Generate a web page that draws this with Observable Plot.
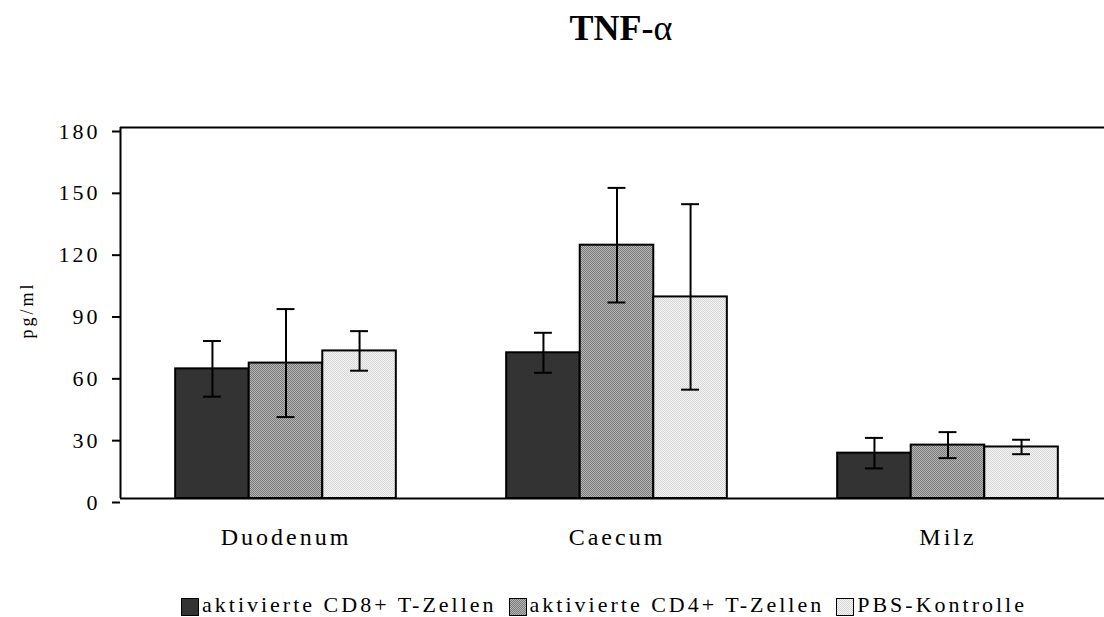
<!DOCTYPE html>
<html>
<head>
<meta charset="utf-8">
<script src="https://cdn.jsdelivr.net/npm/d3@7"></script>
<script src="https://cdn.jsdelivr.net/npm/@observablehq/plot@0.6"></script>
<style>
  html, body { margin: 0; padding: 0; background: #fff; overflow: hidden; }
  body { width: 1104px; height: 617px; font-family: "Liberation Serif", "Times New Roman", serif; color: #000; }
  #title { width: 1104px; height: 56px; line-height: 56px; font-size: 36px; font-weight: bold; text-align: center; padding-left: 138px; box-sizing: border-box; }
  #title .greek { font-weight: normal; }
  #chart svg text { letter-spacing: 3px; }
  #legend { display: flex; height: 23px; padding-left: 181px; font-size: 22px; line-height: 22px; letter-spacing: 3px; white-space: nowrap; }
  #legend .item { display: flex; align-items: flex-start; margin-right: 12px; }
  #legend svg { margin-top: 4px; margin-right: 3px; flex: none; }
</style>
</head>
<body>
<svg width="0" height="0" style="position:absolute">
  <defs>
    <pattern id="pCD4" width="2" height="2" patternUnits="userSpaceOnUse">
      <rect width="2" height="2" fill="#b6b6b6"></rect>
      <rect x="0" y="0" width="1" height="1" fill="#7a7a7a"></rect>
      <rect x="1" y="1" width="1" height="1" fill="#7a7a7a"></rect>
    </pattern>
    <pattern id="pPBS" width="2" height="2" patternUnits="userSpaceOnUse">
      <rect width="2" height="2" fill="#f6f6f6"></rect>
      <rect x="0" y="0" width="1" height="1" fill="#d4d4d4"></rect>
      <rect x="1" y="1" width="1" height="1" fill="#d4d4d4"></rect>
    </pattern>
  </defs>
</svg>
<div id="title">TNF-<span class="greek">α</span></div>
<div id="chart"></div>
<div id="legend"></div>
<script>
const categories = ["Duodenum", "Caecum", "Milz"];
const seriesNames = ["aktivierte CD8+ T-Zellen", "aktivierte CD4+ T-Zellen", "PBS-Kontrolle"];
const cd8Mean = [62.9, 70.7, 22.0];
const cd8Err  = [13.5, 9.7, 7.4];
const cd4Mean = [65.7, 122.9, 25.9];
const cd4Err  = [26.2, 27.8, 6.3];
const pbsMean = [71.6, 97.8, 25.0];
const pbsErr  = [9.6, 45.0, 3.5];
const yTicks = [0, 30, 60, 90, 120, 150, 180];
const yLabel = "pg/ml";
const seriesFills = ["#333333", "url(#pCD4)", "url(#pPBS)"];

// Build a table for the library (Excel-style grouped bars, gap width 50%)
const gapWidth = 0.5;
const groupWidth = 1 / (1 + gapWidth);
const barWidth = groupWidth / seriesNames.length;
const means = [cd8Mean, cd4Mean, pbsMean];
const errs = [cd8Err, cd4Err, pbsErr];
const table = [];
categories.forEach((c, i) => {
  seriesNames.forEach((s, j) => {
    const x1 = i + (1 - groupWidth) / 2 + j * barWidth;
    const v = means[j][i], e = errs[j][i];
    table.push({category: c, series: s, x1, x2: x1 + barWidth, xc: x1 + barWidth / 2, value: v, lo: v - e, hi: v + e});
  });
});
const capHalf = 0.027;

const chart = Plot.plot({
  width: 1104,
  height: 538,
  marginLeft: 120,
  marginRight: 0,
  marginTop: 71,
  marginBottom: 96,
  style: {fontFamily: "'Liberation Serif', 'Times New Roman', serif", fontSize: "22px", color: "#000", background: "#fff", overflow: "visible"},
  x: {type: "linear", domain: [0, categories.length], range: [120, 1113], axis: null},
  y: {domain: [0, 180], axis: null},
  color: {domain: seriesNames, range: seriesFills},
  marks: [
    Plot.rect(table, {x1: "x1", x2: "x2", y1: 0, y2: "value", fill: "series", stroke: "#000", strokeWidth: 2}),
    Plot.ruleX(table, {x: "xc", y1: "lo", y2: "hi", stroke: "#000", strokeWidth: 2}),
    Plot.ruleY(table, {y: "hi", x1: d => d.xc - capHalf, x2: d => d.xc + capHalf, stroke: "#000", strokeWidth: 2}),
    Plot.ruleY(table, {y: "lo", x1: d => d.xc - capHalf, x2: d => d.xc + capHalf, stroke: "#000", strokeWidth: 2}),
    Plot.ruleY([0, 180], {stroke: "#000", strokeWidth: 2}),
    Plot.ruleX([0], {stroke: "#000", strokeWidth: 2}),
    Plot.axisY({ticks: yTicks, tickSize: 8, tickPadding: 12, fontSize: 22, strokeWidth: 2, dy: 4, label: null}),
    Plot.axisX({ticks: categories.map((_, i) => i + 0.5), tickFormat: v => categories[Math.floor(v)], tickSize: 0, tickPadding: 29, fontSize: 24, label: null}),
    Plot.text([yLabel], {frameAnchor: "left", rotate: -90, dx: -93, dy: -3, fontSize: 18, textAnchor: "middle", lineAnchor: "middle"})
  ]
});
document.getElementById("chart").appendChild(chart);

// Legend (HTML, below the chart)
const legend = document.getElementById("legend");
seriesNames.forEach((s, j) => {
  const item = document.createElement("div");
  item.className = "item";
  item.innerHTML = `<svg width="18" height="18"><rect x="0.5" y="0.5" width="17" height="17" fill="${seriesFills[j]}" stroke="#000" stroke-width="1"></rect></svg><span>${s}</span>`;
  legend.appendChild(item);
});
</script>
</body>
</html>
